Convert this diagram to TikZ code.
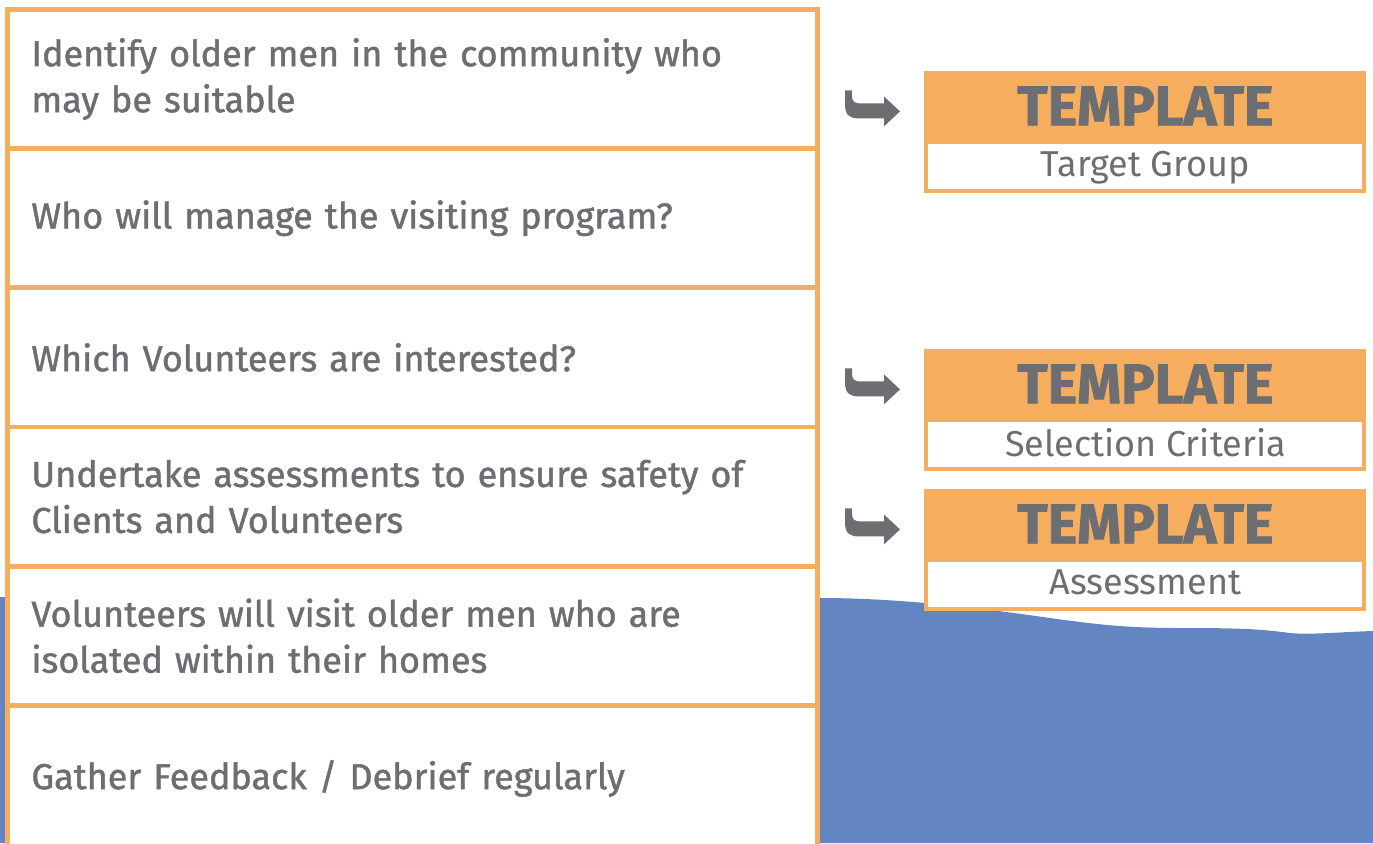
\documentclass[tikz,border=0pt]{standalone}
\usepackage{fontspec}
\setmainfont{Fira Sans}
\newfontfamily\stepfont{Fira Sans}[FakeBold=1.2]
\newfontfamily\tplfont{Fira Sans}[BoldFeatures={FakeBold=1.5}]
\usetikzlibrary{positioning,calc}
\definecolor{tplorange}{HTML}{F6AD5E}
\definecolor{txtgrey}{HTML}{6D6E71}
\definecolor{seablue}{HTML}{6385C1}
\tikzset{
  stepbox/.style={draw=tplorange, line width=2.4pt, fill=white,
    minimum width=405pt, minimum height=69.6pt, text width=381pt,
    inner xsep=12pt, align=left, text=txtgrey,
    font=\stepfont\fontsize{18}{23}\selectfont},
  tplhead/.style={fill=tplorange, minimum width=221pt, minimum height=34.5pt,
    inner sep=0pt, text=txtgrey, font=\tplfont\fontsize{28}{28}\selectfont\bfseries},
  tplsub/.style={draw=tplorange, line width=2pt, fill=white,
    minimum width=219pt, minimum height=24.5pt, inner sep=0pt,
    text=txtgrey, font=\fontsize{18}{18}\selectfont},
  hookarrow/.pic={
    \fill[txtgrey] (0,0) -- (0,14) .. controls (0,26) and (6,28) .. (14,28)
      -- (39,28) -- (39,36) -- (55,21) -- (39,6) -- (39,13) -- (16,13)
      .. controls (9,13) and (7,11) .. (7,5) -- (7,0) -- cycle;
  }
}
\begin{document}
\begin{tikzpicture}[x=0.5pt,y=-0.5pt]
  \useasboundingbox (0,0) rectangle (1373,843);
  % water at the bottom
  \fill[seablue] (0,597) -- (820,598)
    .. controls (900,598) and (980,608) .. (1050,618)
    .. controls (1100,625) and (1130,628) .. (1180,628)
    .. controls (1240,628) and (1260,629) .. (1290,633)
    .. controls (1310,635) and (1340,632) .. (1373,631)
    -- (1373,843) -- (0,843) -- cycle;
  % steps
  \node[stepbox, anchor=north west] (s1) at (5,7)
    {Identify older men in the community who\\may be suitable};
  \node[stepbox, below=-2.4pt of s1] (s2) {Who will manage the visiting program?};
  \node[stepbox, below=-2.4pt of s2] (s3) {Which Volunteers are interested?};
  \node[stepbox, below=-2.4pt of s3] (s4)
    {Undertake assessments to ensure safety of\\Clients and Volunteers};
  \node[stepbox, below=-2.4pt of s4] (s5)
    {Volunteers will visit older men who are\\isolated within their homes};
  \node[stepbox, minimum height=73pt, below=-2.4pt of s5] (s6)
    {Gather Feedback / Debrief regularly};
  % templates
  \node[tplhead, anchor=north west] (t1) at (924,71) {TEMPLATE};
  \node[tplsub, below=-0.6pt of t1, text depth=2pt] (t1s) {Target Group};
  \node[tplhead, anchor=north west] (t2) at (924,349) {TEMPLATE};
  \node[tplsub, below=-0.6pt of t2, text depth=2pt] (t2s) {Selection Criteria};
  \node[tplhead, anchor=north west] (t3) at (924,489) {TEMPLATE};
  \node[tplsub, below=-0.6pt of t3, text depth=2pt] (t3s) {Assessment};
  \foreach \t in {t1,t2,t3}
    \pic at ($(\t.west)+(-79,-15.5)$) {hookarrow};
\end{tikzpicture}
\end{document}
